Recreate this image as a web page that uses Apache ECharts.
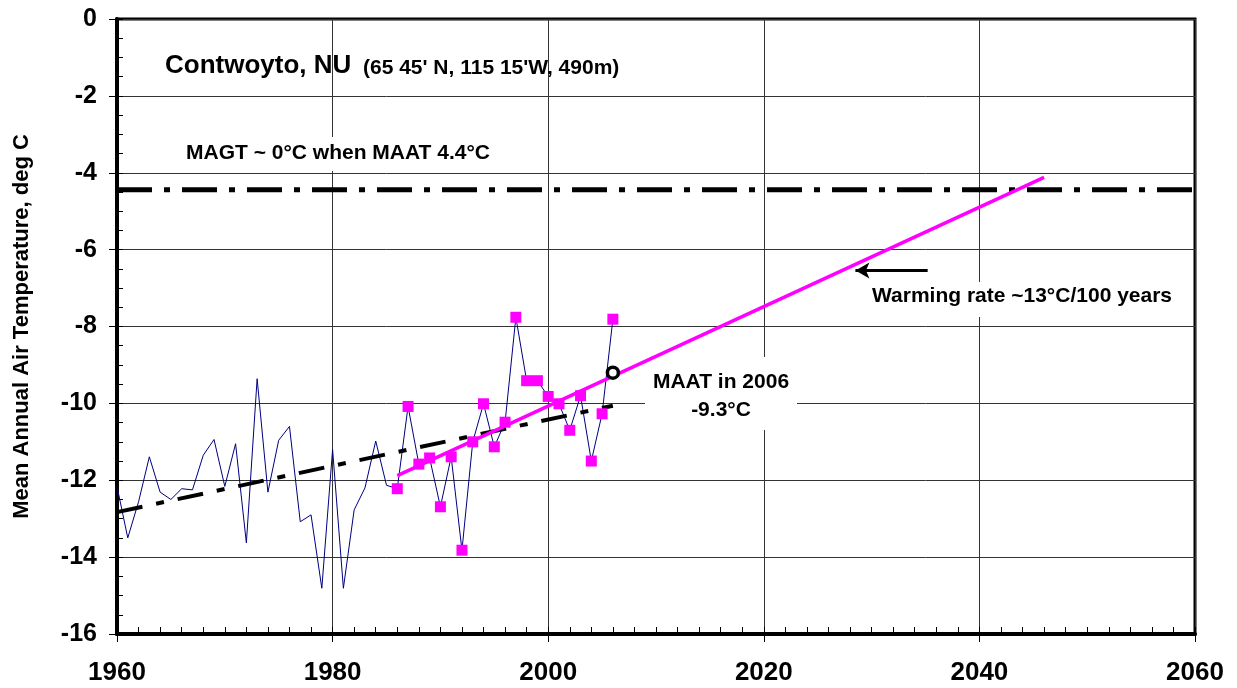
<!DOCTYPE html>
<html><head><meta charset="utf-8">
<script src="https://cdn.jsdelivr.net/npm/echarts@6/dist/echarts.min.js"></script>
<style>html,body{margin:0;padding:0;background:#fff}#c{width:1237px;height:688px}</style>
</head><body><div id="c"></div>
<script>
const FONT = "'Liberation Sans', Arial, sans-serif";

// Annual MAAT record (blue line)
const years = [1960,1961,1962,1963,1964,1965,1966,1967,1968,1969,
  1970,1971,1972,1973,1974,1975,1976,1977,1978,1979,
  1980,1981,1982,1983,1984,1985,1986,1987,1988,1989,
  1990,1991,1992,1993,1994,1995,1996,1997,1998,1999,
  2000,2001,2002,2003,2004,2005,2006];
const maat = [-12.16,-13.5,-12.56,-11.39,-12.31,-12.5,-12.22,-12.25,-11.35,-10.94,
  -12.16,-11.05,-13.63,-9.36,-12.31,-10.96,-10.6,-13.08,-12.9,-14.81,
  -11.2,-14.81,-12.77,-12.2,-10.98,-12.13,-12.22,-10.08,-11.58,-11.42,
  -12.69,-11.39,-13.82,-11.0,-10.01,-11.13,-10.49,-7.76,-9.41,-9.41,
  -9.82,-10.01,-10.7,-9.8,-11.5,-10.27,-7.81];

// Recent years highlighted (magenta squares)
const squareYears = [1986,1987,1988,1989,1990,1991,1992,1993,1994,1995,1996,
  1997,1998,1999,2000,2001,2002,2003,2004,2005,2006];
const squareValues = [-12.22,-10.08,-11.58,-11.42,-12.69,-11.39,-13.82,-11.0,-10.01,-11.13,-10.49,
  -7.76,-9.41,-9.41,-9.82,-10.01,-10.7,-9.8,-11.5,-10.27,-7.81];

// Trend lines
const longTrendX = [1960, 2006];
const longTrendY = [-12.83, -10.06];
const recentTrendX = [1986, 2046];
const recentTrendY = [-11.88, -4.12];

// Threshold (MAAT at which MAGT ~ 0°C)
const thresholdX = [1960, 2060];
const thresholdY = [-4.44, -4.44];

// MAAT in 2006 marker
const markerX = [2006];
const markerY = [-9.2];

// Arrow pointing at the warming trend
const arrowX = [2035.2, 2028.5];
const arrowY = [-6.54, -6.54];

// Axes
const xMin = 1960, xMax = 2060, xStep = 20, xMinorStep = 2;
const yMin = -16, yMax = 0, yStep = 2, yMinorStep = 0.5;

// Texts
const titleMain = 'Contwoyto, NU';
const titleSub = "(65 45' N, 115 15'W, 490m)";
const noteThreshold = 'MAGT ~ 0°C when MAAT 4.4°C';
const noteRate = 'Warming rate ~13°C/100 years';
const noteMaat1 = 'MAAT in 2006';
const noteMaat2 = '-9.3°C';
const yTitle = 'Mean Annual Air Temperature, deg C';

const pairs = (xs, ys) => xs.map((x, i) => [x, ys[i]]);

const chart = echarts.init(document.getElementById('c'), null, {renderer: 'canvas'});

const bold = (size) => 'bold ' + size + 'px ' + FONT;

chart.setOption({
  animation: false,
  backgroundColor: '#fff',
  grid: {left: 117, right: 42, top: 19, bottom: 54, show: true, borderColor: '#000', borderWidth: 3, backgroundColor: 'transparent'},
  xAxis: [
    {type: 'value', min: xMin, max: xMax, interval: xStep, position: 'bottom',
      axisLine: {show: true, onZero: false, lineStyle: {color: '#000', width: 4}},
      axisTick: {show: true, inside: false, length: 8, lineStyle: {color: '#000', width: 1}},
      axisLabel: {margin: 26, fontSize: 26, fontWeight: 'bold', color: '#000', fontFamily: FONT,
        formatter: (v) => String(v)},
      splitLine: {show: true, lineStyle: {color: '#333', width: 1}}},
    {type: 'value', min: xMin, max: xMax, interval: xMinorStep, position: 'bottom', offset: 0,
      axisLine: {show: false, onZero: false},
      axisTick: {show: true, inside: true, length: 7, lineStyle: {color: '#000', width: 1}},
      axisLabel: {show: false}, splitLine: {show: false}}
  ],
  yAxis: [
    {type: 'value', min: yMin, max: yMax, interval: yStep, position: 'left',
      axisLine: {show: true, onZero: false, lineStyle: {color: '#000', width: 4}},
      axisTick: {show: true, inside: false, length: 8, lineStyle: {color: '#000', width: 1}},
      axisLabel: {margin: 20, fontSize: 25, fontWeight: 'bold', color: '#000', fontFamily: FONT},
      splitLine: {show: true, lineStyle: {color: '#333', width: 1}},
      name: yTitle, nameLocation: 'middle', nameRotate: 90, nameGap: 84,
      nameTextStyle: {fontSize: 22, fontWeight: 'bold', color: '#000', fontFamily: FONT}},
    {type: 'value', min: yMin, max: yMax, interval: yMinorStep, position: 'left', offset: 0,
      axisLine: {show: false, onZero: false},
      axisTick: {show: true, inside: true, length: 6, lineStyle: {color: '#000', width: 1}},
      axisLabel: {show: false}, splitLine: {show: false}}
  ],
  graphic: [
    {type: 'rect', z: 10, silent: true, shape: {x: 180, y: 137, width: 320, height: 34}, style: {fill: '#fff'}},
    {type: 'rect', z: 10, silent: true, shape: {x: 864, y: 282, width: 318, height: 35}, style: {fill: '#fff'}},
    {type: 'rect', z: 10, silent: true, shape: {x: 645, y: 357, width: 152, height: 73}, style: {fill: '#fff'}},
    {type: 'text', z: 11, x: 165, y: 66, style: {text: titleMain, font: bold(26), fill: '#000', align: 'left', verticalAlign: 'middle'}},
    {type: 'text', z: 11, x: 363, y: 68, style: {text: titleSub, font: bold(21), fill: '#000', align: 'left', verticalAlign: 'middle'}},
    {type: 'text', z: 11, x: 186, y: 153, style: {text: noteThreshold, font: bold(21), fill: '#000', align: 'left', verticalAlign: 'middle'}},
    {type: 'text', z: 11, x: 872, y: 296, style: {text: noteRate, font: bold(21), fill: '#000', align: 'left', verticalAlign: 'middle'}},
    {type: 'text', z: 11, x: 721, y: 382, style: {text: noteMaat1, font: bold(21), fill: '#000', align: 'center', verticalAlign: 'middle'}},
    {type: 'text', z: 11, x: 721, y: 410, style: {text: noteMaat2, font: bold(21), fill: '#000', align: 'center', verticalAlign: 'middle'}}
  ],
  series: [
    {type: 'line', name: 'threshold', data: pairs(thresholdX, thresholdY), showSymbol: false, symbol: 'none', z: 20,
      lineStyle: {color: '#000', width: 5, type: [35, 12, 6, 12]}},
    {type: 'line', name: 'MAAT', data: pairs(years, maat), showSymbol: false, symbol: 'none', z: 21,
      lineStyle: {color: '#000080', width: 1}},
    {type: 'line', name: 'long trend', data: pairs(longTrendX, longTrendY), showSymbol: false, symbol: 'none', z: 22,
      lineStyle: {color: '#000', width: 4, type: [26, 14, 8, 14]}},
    {type: 'scatter', name: 'recent', data: pairs(squareYears, squareValues), symbol: 'rect', symbolSize: 11, z: 23,
      itemStyle: {color: '#FF00FF', opacity: 1}},
    {type: 'line', name: 'recent trend', data: pairs(recentTrendX, recentTrendY), showSymbol: false, symbol: 'none', z: 24,
      lineStyle: {color: '#FF00FF', width: 3.5}},
    {type: 'scatter', name: 'MAAT 2006', data: pairs(markerX, markerY), symbol: 'circle', symbolSize: 11, z: 25,
      itemStyle: {color: '#fff', borderColor: '#000', borderWidth: 3.5, opacity: 1}},
    {type: 'line', name: 'arrow', data: [], z: 26,
      markLine: {silent: true, symbol: ['none', 'arrow'], symbolSize: [12, 14], animation: false,
        label: {show: false}, lineStyle: {color: '#000', width: 3, type: 'solid'},
        data: [[{coord: [arrowX[0], arrowY[0]]}, {coord: [arrowX[1], arrowY[1]]}]]}}
  ]
});
</script></body></html>
